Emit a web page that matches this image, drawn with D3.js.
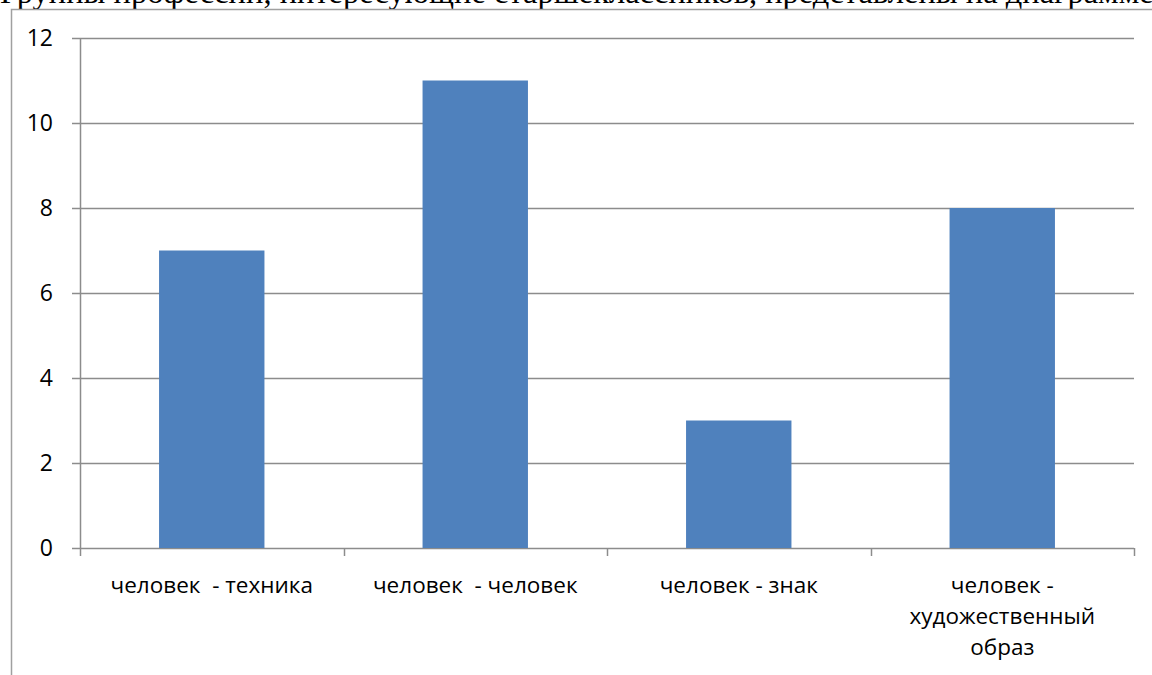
<!DOCTYPE html>
<html>
<head>
<meta charset="utf-8">
<script src="https://cdn.jsdelivr.net/npm/d3@7"></script>
<style>
  body { margin: 0; background: #fff; }
  svg text { font-family: "Open Sans", "Noto Sans", sans-serif; }
</style>
</head>
<body>
<div id="chart"></div>
<script>
// data
var categories = [
  ["человек  - техника"],
  ["человек  - человек"],
  ["человек - знак"],
  ["человек -", "художественный", "образ"]
];
var values = [7, 11, 3, 8];
var yTicks = [0, 2, 4, 6, 8, 10, 12];
var heading = "Группы профессий, интересующие старшеклассников, представлены на диаграмме";

var svgWidth = 1152;
var svgHeight = 675;

var margin = { top: 38, right: 18, bottom: 127, left: 80 };
var width = svgWidth - margin.left - margin.right;
var height = svgHeight - margin.top - margin.bottom;

var svg = d3.select("#chart")
  .append("svg")
  .attr("width", svgWidth)
  .attr("height", svgHeight);

// heading text above the chart frame (the page top cuts it, as in the original)
svg.append("text")
  .attr("x", 0)
  .attr("y", 3)
  .style("font-family", "'Liberation Serif', 'Times New Roman', serif")
  .style("font-size", "32.5px")
  .attr("fill", "#000")
  .text(heading);

// chart frame
svg.append("path")
  .attr("d", "M11.5," + svgHeight + "V9.5H" + svgWidth)
  .attr("fill", "none")
  .attr("stroke", "#a0a0a0")
  .attr("stroke-width", 1.5);

var chartGroup = svg.append("g")
  .attr("transform", `translate(${margin.left}, ${margin.top})`);

var idx = d3.range(categories.length);

var xBandScale = d3.scaleBand()
  .domain(idx)
  .range([0, width])
  .paddingInner(0.6)
  .paddingOuter(0.3);

var yLinearScale = d3.scaleLinear()
  .domain([0, 12])
  .range([height, 0]);

// gridlines
chartGroup.append("g")
  .selectAll("line")
  .data(yTicks)
  .enter()
  .append("line")
  .attr("x1", -8)
  .attr("x2", width)
  .attr("y1", d => Math.round(yLinearScale(d)) + 0.5)
  .attr("y2", d => Math.round(yLinearScale(d)) + 0.5)
  .attr("stroke", "#8c8c8c")
  .attr("stroke-width", 1.5);

// y axis labels
chartGroup.append("g")
  .selectAll("text")
  .data(yTicks)
  .enter()
  .append("text")
  .attr("x", -27)
  .attr("y", d => yLinearScale(d))
  .attr("dy", "0.35em")
  .attr("text-anchor", "end")
  .style("font-size", "23px")
  .attr("fill", "#000")
  .text(d => d);

// bars
chartGroup.selectAll("rect")
  .data(values)
  .enter()
  .append("rect")
  .attr("x", (d, i) => xBandScale(i))
  .attr("width", xBandScale.bandwidth())
  .attr("y", d => yLinearScale(d))
  .attr("height", d => height - yLinearScale(d))
  .attr("fill", "#4f81bd");

// y axis line
chartGroup.append("line")
  .attr("x1", 0.5).attr("x2", 0.5)
  .attr("y1", 0).attr("y2", height)
  .attr("stroke", "#8c8c8c")
  .attr("stroke-width", 1.5);

// category ticks on x axis
chartGroup.append("g")
  .selectAll("line")
  .data(d3.range(categories.length + 1))
  .enter()
  .append("line")
  .attr("x1", i => Math.round(i * width / categories.length) + 0.5)
  .attr("x2", i => Math.round(i * width / categories.length) + 0.5)
  .attr("y1", height)
  .attr("y2", height + 8)
  .attr("stroke", "#8c8c8c")
  .attr("stroke-width", 1.5);

// x labels
var labels = chartGroup.append("g")
  .selectAll("text")
  .data(categories)
  .enter()
  .append("text")
  .attr("x", (d, i) => xBandScale(i) + xBandScale.bandwidth() / 2)
  .attr("y", height + 45)
  .attr("text-anchor", "middle")
  .style("font-size", "22.5px")
  .attr("fill", "#000");

labels.selectAll("tspan")
  .data(d => d)
  .enter()
  .append("tspan")
  .attr("x", function() { return d3.select(this.parentNode).attr("x"); })
  .attr("dy", (d, i) => i === 0 ? 0 : 31)
  .style("white-space", "pre")
  .text(d => d);
</script>
</body>
</html>
